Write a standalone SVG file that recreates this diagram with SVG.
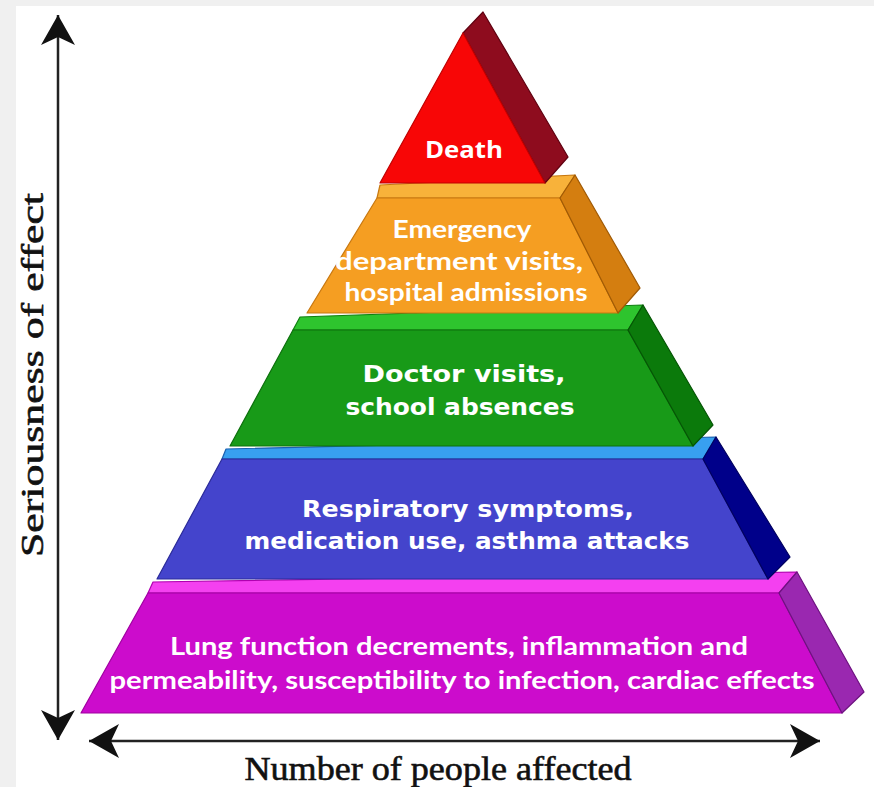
<svg xmlns="http://www.w3.org/2000/svg" width="874" height="787" viewBox="0 0 874 787">
<style>
.lbl{fill:#ffffff;font-weight:bold;text-anchor:middle}
.os{font-family:"Open Sans","Liberation Sans",sans-serif}
.lt{font-family:Lato,"Liberation Sans",sans-serif}
.dv{font-family:"DejaVu Sans","Liberation Sans",sans-serif;font-stretch:condensed}
.axis{fill:#111;stroke:#111;stroke-width:0.6;font-family:"Liberation Serif","Times New Roman",serif;text-anchor:middle}
.ax{stroke:#222;stroke-width:2.5;fill:none}
.edge{stroke-width:1.2;stroke-linejoin:round}
</style>
<defs>
<marker id="ah" viewBox="-32 -18 34 36" refX="0" refY="0" markerWidth="34" markerHeight="36" markerUnits="userSpaceOnUse" orient="auto-start-reverse">
<path d="M0,0 L-30,-17 L-22,0 L-30,17 Z" fill="#111"/>
</marker>
</defs>
<rect x="0" y="0" width="874" height="787" fill="#ffffff"/>
<rect x="0" y="0" width="874" height="6" fill="#f0f0f0"/>
<rect x="0" y="0" width="16" height="787" fill="#f0f0f0"/>

<g id="layer-lung">
<polygon class="edge" points="153,582 797,572 779,593 148,593" fill="#f440f0" stroke="#b000b0"/>
<polygon class="edge" points="148,593 779,593 842,713 81,713" fill="#cc0ccc" stroke="#a000a0"/>
<polygon class="edge" points="779,593 797,572 864,692 842,713" fill="#9a28b0" stroke="#6e1280"/>
<text class="lbl lt" font-size="24" x="459" y="655" textLength="578" lengthAdjust="spacingAndGlyphs">Lung function decrements, inflammation and</text>
<text class="lbl lt" font-size="24" x="462" y="689" textLength="705" lengthAdjust="spacingAndGlyphs">permeability, susceptibility to infection, cardiac effects</text>
</g>

<g id="layer-respiratory">
<polygon class="edge" points="226,449 716,437 703,459 222,459" fill="#38a0f0" stroke="#1a60b0"/>
<polygon class="edge" points="222,459 703,459 768,579 157,579" fill="#4444cc" stroke="#2a2a99"/>
<polygon class="edge" points="703,459 716,437 790,557 768,579" fill="#00008a" stroke="#000060"/>
<text class="lbl dv" font-size="23" x="468" y="517" textLength="332" lengthAdjust="spacingAndGlyphs">Respiratory symptoms,</text>
<text class="lbl dv" font-size="23" x="467" y="549" textLength="445" lengthAdjust="spacingAndGlyphs">medication use, asthma attacks</text>
</g>

<g id="layer-doctor">
<polygon class="edge" points="300,317 643,305 628,330 293,330" fill="#2ec42e" stroke="#108010"/>
<polygon class="edge" points="293,330 628,330 693,446 230,446" fill="#189a18" stroke="#0c700c"/>
<polygon class="edge" points="628,330 643,305 713,425 693,446" fill="#0b7a0b" stroke="#055505"/>
<text class="lbl dv" font-size="23" x="464" y="382" textLength="203" lengthAdjust="spacingAndGlyphs">Doctor visits,</text>
<text class="lbl dv" font-size="23" x="460" y="415" textLength="229" lengthAdjust="spacingAndGlyphs">school absences</text>
</g>

<g id="layer-emergency">
<polygon class="edge" points="380,185 575,175 560,198 377,198" fill="#f8b23a" stroke="#c87810"/>
<polygon class="edge" points="377,198 560,198 618,313 307,313" fill="#f59e22" stroke="#c87810"/>
<polygon class="edge" points="560,198 575,175 640,288 618,313" fill="#d47e10" stroke="#a05a05"/>
<text class="lbl lt" font-size="25" x="462" y="238" textLength="139" lengthAdjust="spacingAndGlyphs">Emergency</text>
<text class="lbl lt" font-size="25" x="459" y="270" textLength="248" lengthAdjust="spacingAndGlyphs">department visits,</text>
<text class="lbl lt" font-size="25" x="466" y="301" textLength="243" lengthAdjust="spacingAndGlyphs">hospital admissions</text>
</g>

<g id="layer-death">
<polygon class="edge" points="463,33 483,12 568,157 545,183" fill="#8e0c1e" stroke="#600010"/>
<polygon class="edge" points="463,33 545,183 380,183" fill="#f80606" stroke="#c00000"/>
<text class="lbl os" font-size="24" x="464" y="158" textLength="78" lengthAdjust="spacingAndGlyphs">Death</text>
</g>

<g id="connectors">
<line class="ax" x1="58" y1="15" x2="58" y2="740" marker-start="url(#ah)" marker-end="url(#ah)"/>
<line class="ax" x1="89" y1="741" x2="820" y2="741" marker-start="url(#ah)" marker-end="url(#ah)"/>
</g>

<g id="axis-labels">
<text class="axis" font-size="34" x="438" y="780" textLength="387" lengthAdjust="spacingAndGlyphs">Number of people affected</text>
<text class="axis" font-size="31" transform="translate(43,375) rotate(-90)" x="0" y="0" textLength="364" lengthAdjust="spacingAndGlyphs">Seriousness of effect</text>
</g>
</svg>
